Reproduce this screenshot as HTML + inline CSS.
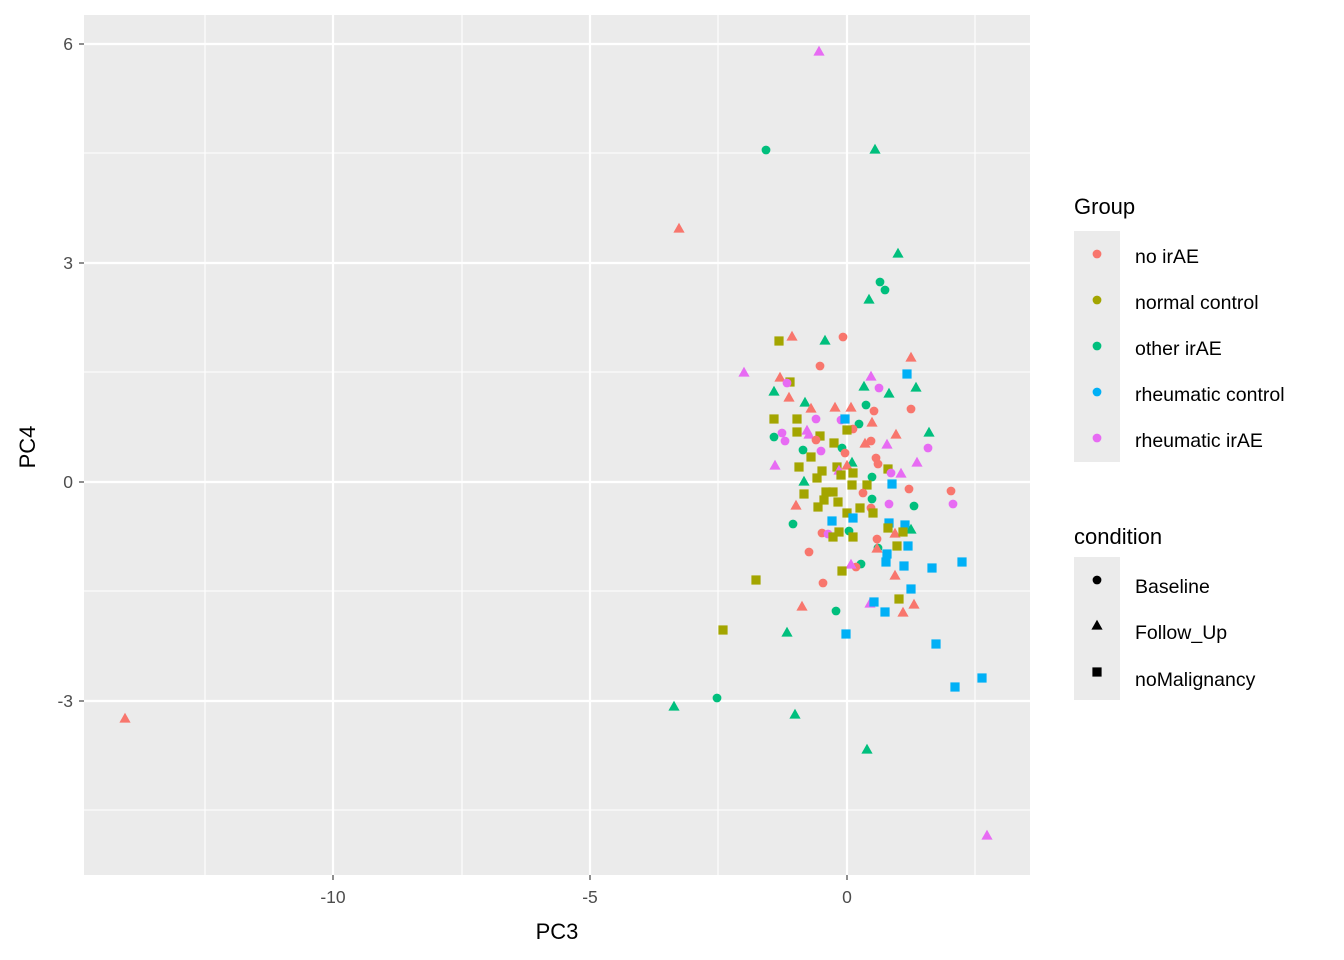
<!DOCTYPE html>
<html><head><meta charset="utf-8"><style>html,body{margin:0;padding:0;background:#fff}svg{display:block}</style></head>
<body>
<svg width="1344" height="960" viewBox="0 0 1344 960" xmlns="http://www.w3.org/2000/svg" font-family="Liberation Sans, Arial, sans-serif">
<defs>
<circle id="c" cx="0" cy="0" r="4.4"/>
<polygon id="t" points="0,-6.2 5.6,3.6 -5.6,3.6"/>
<rect id="s" x="-4.6" y="-4.6" width="9.2" height="9.2"/>
</defs>
<rect x="84" y="15" width="946" height="860" fill="#EBEBEB"/>
<g stroke="#fff" stroke-width="1.1">
<line x1="205" y1="15" x2="205" y2="875"/><line x1="462" y1="15" x2="462" y2="875"/><line x1="718" y1="15" x2="718" y2="875"/><line x1="975" y1="15" x2="975" y2="875"/>
<line x1="84" y1="153" x2="1030" y2="153"/><line x1="84" y1="372" x2="1030" y2="372"/><line x1="84" y1="591" x2="1030" y2="591"/><line x1="84" y1="810" x2="1030" y2="810"/>
</g>
<g stroke="#fff" stroke-width="2.2">
<line x1="333" y1="15" x2="333" y2="875"/><line x1="590" y1="15" x2="590" y2="875"/><line x1="847" y1="15" x2="847" y2="875"/>
<line x1="84" y1="44" x2="1030" y2="44"/><line x1="84" y1="263" x2="1030" y2="263"/><line x1="84" y1="482" x2="1030" y2="482"/><line x1="84" y1="701" x2="1030" y2="701"/>
</g>
<g stroke="#333" stroke-width="1.1">
<line x1="79" y1="44" x2="84" y2="44"/><line x1="79" y1="263" x2="84" y2="263"/><line x1="79" y1="482" x2="84" y2="482"/><line x1="79" y1="701" x2="84" y2="701"/>
<line x1="333" y1="875" x2="333" y2="880"/><line x1="590" y1="875" x2="590" y2="880"/><line x1="847" y1="875" x2="847" y2="880"/>
</g>
<g fill="#4D4D4D" font-size="17.5" text-anchor="end">
<text x="73" y="50">6</text><text x="73" y="269">3</text><text x="73" y="488">0</text><text x="73" y="707">-3</text>
</g>
<g fill="#4D4D4D" font-size="17.5" text-anchor="middle">
<text x="333" y="903">-10</text><text x="590" y="903">-5</text><text x="847" y="903">0</text>
</g>
<text x="557" y="939" font-size="22" text-anchor="middle" fill="#000">PC3</text>
<text transform="translate(35,447) rotate(-90)" font-size="22" text-anchor="middle" fill="#000">PC4</text>

<g>
<use href="#t" x="819" y="52" fill="#E76BF3"/>
<use href="#c" x="766" y="150" fill="#00BF7D"/>
<use href="#t" x="875" y="150" fill="#00BF7D"/>
<use href="#t" x="679" y="229" fill="#F8766D"/>
<use href="#t" x="898" y="254" fill="#00BF7D"/>
<use href="#c" x="880" y="282" fill="#00BF7D"/>
<use href="#c" x="885" y="290" fill="#00BF7D"/>
<use href="#t" x="869" y="300" fill="#00BF7D"/>
<use href="#s" x="779" y="341" fill="#A3A500"/>
<use href="#t" x="792" y="337" fill="#F8766D"/>
<use href="#t" x="825" y="341" fill="#00BF7D"/>
<use href="#c" x="843" y="337" fill="#F8766D"/>
<use href="#t" x="911" y="358" fill="#F8766D"/>
<use href="#c" x="820" y="366" fill="#F8766D"/>
<use href="#t" x="744" y="373" fill="#E76BF3"/>
<use href="#t" x="780" y="378" fill="#F8766D"/>
<use href="#s" x="790" y="382" fill="#A3A500"/>
<use href="#c" x="787" y="383" fill="#E76BF3"/>
<use href="#s" x="907" y="374" fill="#00B0F6"/>
<use href="#t" x="871" y="377" fill="#E76BF3"/>
<use href="#t" x="864" y="387" fill="#00BF7D"/>
<use href="#c" x="879" y="388" fill="#E76BF3"/>
<use href="#t" x="889" y="394" fill="#00BF7D"/>
<use href="#t" x="916" y="388" fill="#00BF7D"/>
<use href="#t" x="774" y="392" fill="#00BF7D"/>
<use href="#t" x="789" y="398" fill="#F8766D"/>
<use href="#t" x="805" y="403" fill="#00BF7D"/>
<use href="#t" x="811" y="409" fill="#F8766D"/>
<use href="#t" x="835" y="408" fill="#F8766D"/>
<use href="#t" x="851" y="408" fill="#F8766D"/>
<use href="#c" x="866" y="405" fill="#00BF7D"/>
<use href="#c" x="874" y="411" fill="#F8766D"/>
<use href="#c" x="911" y="409" fill="#F8766D"/>
<use href="#s" x="774" y="419" fill="#A3A500"/>
<use href="#s" x="797" y="419" fill="#A3A500"/>
<use href="#c" x="816" y="419" fill="#E76BF3"/>
<use href="#c" x="841" y="420" fill="#E76BF3"/>
<use href="#s" x="845" y="419" fill="#00B0F6"/>
<use href="#c" x="859" y="424" fill="#00BF7D"/>
<use href="#t" x="872" y="423" fill="#F8766D"/>
<use href="#c" x="853" y="429" fill="#F8766D"/>
<use href="#s" x="797" y="432" fill="#A3A500"/>
<use href="#t" x="807" y="431" fill="#E76BF3"/>
<use href="#t" x="809" y="435" fill="#E76BF3"/>
<use href="#s" x="820" y="436" fill="#A3A500"/>
<use href="#s" x="847" y="430" fill="#A3A500"/>
<use href="#t" x="929" y="433" fill="#00BF7D"/>
<use href="#t" x="896" y="435" fill="#F8766D"/>
<use href="#c" x="774" y="437" fill="#00BF7D"/>
<use href="#c" x="782" y="433" fill="#E76BF3"/>
<use href="#c" x="785" y="441" fill="#E76BF3"/>
<use href="#c" x="816" y="440" fill="#F8766D"/>
<use href="#s" x="834" y="443" fill="#A3A500"/>
<use href="#c" x="871" y="441" fill="#F8766D"/>
<use href="#t" x="865" y="444" fill="#F8766D"/>
<use href="#t" x="887" y="445" fill="#E76BF3"/>
<use href="#c" x="928" y="448" fill="#E76BF3"/>
<use href="#c" x="803" y="450" fill="#00BF7D"/>
<use href="#c" x="821" y="451" fill="#E76BF3"/>
<use href="#c" x="842" y="448" fill="#00BF7D"/>
<use href="#c" x="845" y="453" fill="#F8766D"/>
<use href="#s" x="811" y="457" fill="#A3A500"/>
<use href="#c" x="876" y="458" fill="#F8766D"/>
<use href="#c" x="878" y="464" fill="#F8766D"/>
<use href="#t" x="775" y="466" fill="#E76BF3"/>
<use href="#s" x="799" y="467" fill="#A3A500"/>
<use href="#s" x="822" y="471" fill="#A3A500"/>
<use href="#s" x="837" y="467" fill="#A3A500"/>
<use href="#t" x="852" y="463" fill="#00BF7D"/>
<use href="#t" x="847" y="466" fill="#F8766D"/>
<use href="#t" x="839" y="471" fill="#E76BF3"/>
<use href="#s" x="853" y="473" fill="#A3A500"/>
<use href="#s" x="841" y="475" fill="#A3A500"/>
<use href="#t" x="917" y="463" fill="#E76BF3"/>
<use href="#s" x="888" y="469" fill="#A3A500"/>
<use href="#c" x="891" y="473" fill="#E76BF3"/>
<use href="#t" x="901" y="474" fill="#E76BF3"/>
<use href="#s" x="817" y="478" fill="#A3A500"/>
<use href="#c" x="872" y="477" fill="#00BF7D"/>
<use href="#t" x="804" y="482" fill="#00BF7D"/>
<use href="#s" x="892" y="484" fill="#00B0F6"/>
<use href="#s" x="852" y="485" fill="#A3A500"/>
<use href="#s" x="867" y="485" fill="#A3A500"/>
<use href="#c" x="909" y="489" fill="#F8766D"/>
<use href="#c" x="951" y="491" fill="#F8766D"/>
<use href="#s" x="804" y="494" fill="#A3A500"/>
<use href="#s" x="826" y="492" fill="#A3A500"/>
<use href="#s" x="833" y="492" fill="#A3A500"/>
<use href="#c" x="863" y="493" fill="#F8766D"/>
<use href="#c" x="872" y="499" fill="#00BF7D"/>
<use href="#c" x="889" y="504" fill="#E76BF3"/>
<use href="#c" x="914" y="506" fill="#00BF7D"/>
<use href="#c" x="953" y="504" fill="#E76BF3"/>
<use href="#t" x="796" y="506" fill="#F8766D"/>
<use href="#s" x="824" y="500" fill="#A3A500"/>
<use href="#s" x="838" y="502" fill="#A3A500"/>
<use href="#s" x="818" y="507" fill="#A3A500"/>
<use href="#s" x="860" y="508" fill="#A3A500"/>
<use href="#c" x="871" y="508" fill="#F8766D"/>
<use href="#s" x="873" y="513" fill="#A3A500"/>
<use href="#s" x="847" y="513" fill="#A3A500"/>
<use href="#s" x="832" y="521" fill="#00B0F6"/>
<use href="#s" x="853" y="518" fill="#00B0F6"/>
<use href="#c" x="793" y="524" fill="#00BF7D"/>
<use href="#s" x="889" y="523" fill="#00B0F6"/>
<use href="#s" x="905" y="525" fill="#00B0F6"/>
<use href="#t" x="911" y="530" fill="#00BF7D"/>
<use href="#s" x="888" y="528" fill="#A3A500"/>
<use href="#t" x="895" y="534" fill="#F8766D"/>
<use href="#s" x="903" y="532" fill="#A3A500"/>
<use href="#c" x="822" y="533" fill="#F8766D"/>
<use href="#c" x="828" y="534" fill="#E76BF3"/>
<use href="#s" x="839" y="532" fill="#A3A500"/>
<use href="#s" x="833" y="537" fill="#A3A500"/>
<use href="#c" x="849" y="531" fill="#00BF7D"/>
<use href="#s" x="853" y="537" fill="#A3A500"/>
<use href="#c" x="877" y="539" fill="#F8766D"/>
<use href="#s" x="897" y="546" fill="#A3A500"/>
<use href="#s" x="908" y="546" fill="#00B0F6"/>
<use href="#c" x="878" y="548" fill="#00BF7D"/>
<use href="#t" x="877" y="549" fill="#F8766D"/>
<use href="#c" x="809" y="552" fill="#F8766D"/>
<use href="#s" x="887" y="554" fill="#00B0F6"/>
<use href="#s" x="886" y="562" fill="#00B0F6"/>
<use href="#s" x="962" y="562" fill="#00B0F6"/>
<use href="#s" x="932" y="568" fill="#00B0F6"/>
<use href="#s" x="904" y="566" fill="#00B0F6"/>
<use href="#c" x="861" y="564" fill="#00BF7D"/>
<use href="#c" x="856" y="567" fill="#F8766D"/>
<use href="#t" x="851" y="565" fill="#E76BF3"/>
<use href="#s" x="842" y="571" fill="#A3A500"/>
<use href="#t" x="895" y="576" fill="#F8766D"/>
<use href="#s" x="756" y="580" fill="#A3A500"/>
<use href="#c" x="823" y="583" fill="#F8766D"/>
<use href="#s" x="911" y="589" fill="#00B0F6"/>
<use href="#s" x="899" y="599" fill="#A3A500"/>
<use href="#t" x="914" y="605" fill="#F8766D"/>
<use href="#t" x="802" y="607" fill="#F8766D"/>
<use href="#t" x="870" y="604" fill="#E76BF3"/>
<use href="#s" x="874" y="602" fill="#00B0F6"/>
<use href="#c" x="836" y="611" fill="#00BF7D"/>
<use href="#s" x="885" y="612" fill="#00B0F6"/>
<use href="#t" x="903" y="613" fill="#F8766D"/>
<use href="#t" x="787" y="633" fill="#00BF7D"/>
<use href="#s" x="846" y="634" fill="#00B0F6"/>
<use href="#s" x="723" y="630" fill="#A3A500"/>
<use href="#s" x="936" y="644" fill="#00B0F6"/>
<use href="#c" x="717" y="698" fill="#00BF7D"/>
<use href="#t" x="674" y="707" fill="#00BF7D"/>
<use href="#t" x="795" y="715" fill="#00BF7D"/>
<use href="#s" x="982" y="678" fill="#00B0F6"/>
<use href="#s" x="955" y="687" fill="#00B0F6"/>
<use href="#t" x="125" y="719" fill="#F8766D"/>
<use href="#t" x="867" y="750" fill="#00BF7D"/>
<use href="#t" x="987" y="836" fill="#E76BF3"/>
</g>

<text x="1074" y="214" font-size="22" fill="#000">Group</text>
<rect x="1074" y="231" width="46" height="231" fill="#EBEBEB"/>
<g>
<circle cx="1097" cy="254" r="4.4" fill="#F8766D"/>
<circle cx="1097" cy="300" r="4.4" fill="#A3A500"/>
<circle cx="1097" cy="346" r="4.4" fill="#00BF7D"/>
<circle cx="1097" cy="392" r="4.4" fill="#00B0F6"/>
<circle cx="1097" cy="438" r="4.4" fill="#E76BF3"/>
</g>
<g font-size="19.5" fill="#000">
<text x="1135" y="263">no irAE</text>
<text x="1135" y="309">normal control</text>
<text x="1135" y="355">other irAE</text>
<text x="1135" y="401">rheumatic control</text>
<text x="1135" y="447">rheumatic irAE</text>
</g>
<text x="1074" y="544" font-size="22" fill="#000">condition</text>
<rect x="1074" y="557" width="46" height="143" fill="#EBEBEB"/>
<use href="#c" x="1097" y="580" fill="#000"/>
<use href="#t" x="1097" y="626" fill="#000"/>
<use href="#s" x="1097" y="672" fill="#000"/>
<g font-size="19.5" fill="#000">
<text x="1135" y="593">Baseline</text>
<text x="1135" y="639">Follow_Up</text>
<text x="1135" y="686">noMalignancy</text>
</g>
</svg>
</body></html>
